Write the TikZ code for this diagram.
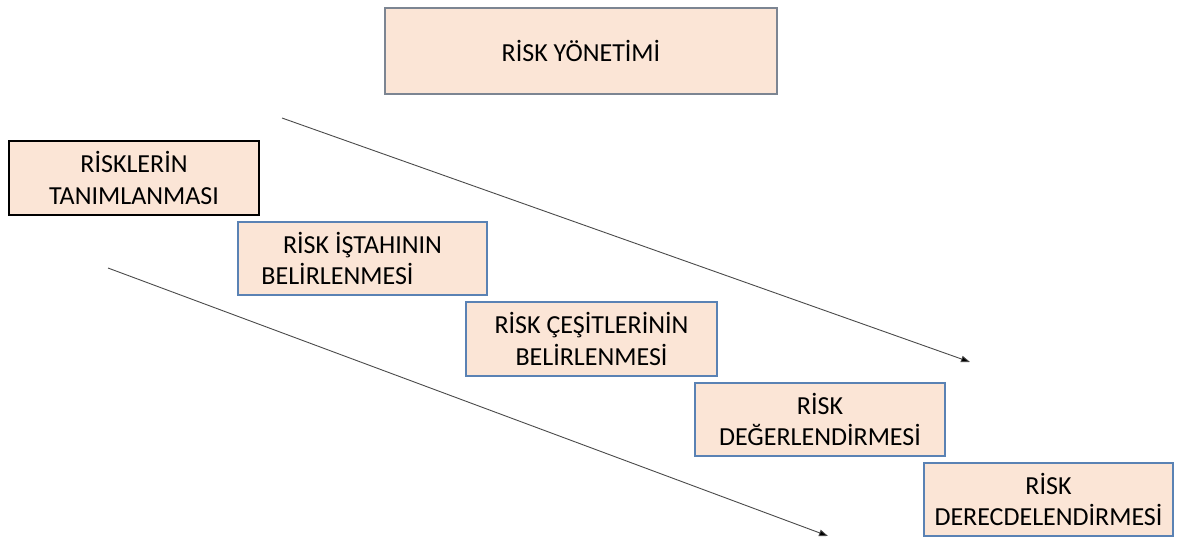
\documentclass[tikz,border=0pt]{standalone}
\usepackage{fontspec}
\setmainfont{Carlito}
\usetikzlibrary{arrows.meta}
\definecolor{peach}{HTML}{FBE5D6}
\definecolor{edgeblue}{HTML}{5A82B4}
\definecolor{edgegrey}{HTML}{7C8592}
\definecolor{linegrey}{HTML}{4A4A4A}
\tikzset{
  stage/.style={draw=edgeblue, line width=1.2pt, fill=peach, align=center,
    inner sep=0pt, minimum width=250pt, minimum height=73pt,
    font=\fontsize{26}{31.7}\selectfont},
  flow/.style={draw=linegrey, line width=0.9pt,
    -{Triangle[length=9pt,width=6.5pt,fill=black]}},
}
\begin{document}
\begin{tikzpicture}[x=1pt,y=-1pt]
\useasboundingbox (0,0) rectangle (1177,541);
\node[stage, draw=edgegrey, minimum width=392pt, minimum height=86pt] (top) at (581,51) {RİSK YÖNETİMİ};
\node[stage, draw=black, minimum height=74pt] (tanim) at (134,178) {RİSKLERİN\\TANIMLANMASI};
\node[stage, minimum width=249pt] (istah) at (362.5,258.5) {RİSK İŞTAHININ\\BELİRLENMESİ\hspace*{50pt}};
\node[stage, minimum width=251pt, minimum height=74pt] (cesit) at (591.5,339) {RİSK ÇEŞİTLERİNİN\\BELİRLENMESİ};
\node[stage] (deger) at (820,419.5) {RİSK\\DEĞERLENDİRMESİ};
\node[stage, minimum width=249pt] (derece) at (1048.5,499.5) {RİSK\\DERECDELENDİRMESİ};
\coordinate (u1) at (282,118);
\coordinate (u2) at (970,362);
\coordinate (l1) at (108,268);
\coordinate (l2) at (828,536);
\draw[flow] (u1) -- (u2);
\draw[flow] (l1) -- (l2);
\end{tikzpicture}
\end{document}
